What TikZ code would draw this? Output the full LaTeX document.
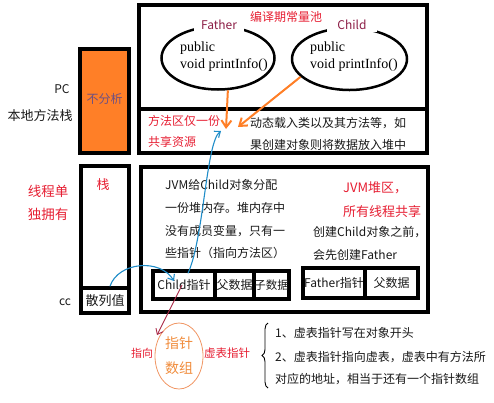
\documentclass[tikz,border=0pt]{standalone}
\usepackage{fontspec}
\setmainfont{Noto Sans CJK SC}
\newfontfamily\serifcode{Liberation Serif}
\usetikzlibrary{shapes.geometric,arrows.meta,decorations.pathreplacing}
\definecolor{myred}{RGB}{230,30,50}
\definecolor{maroon}{RGB}{140,30,70}
\definecolor{myorange}{RGB}{255,127,39}
\definecolor{myblue}{RGB}{30,140,200}
\definecolor{darkred}{RGB}{170,40,70}
\definecolor{circor}{RGB}{240,150,100}
\definecolor{txtor}{RGB}{240,140,60}
\definecolor{purp}{RGB}{110,80,130}
\definecolor{ink}{RGB}{25,25,25}
\begin{document}
\begin{tikzpicture}[x=1pt,y=-1pt,
  box/.style={draw=black,line width=3.5pt,rectangle,inner sep=0pt},
  ell/.style={draw=black,line width=2.5pt,ellipse,inner sep=0pt},
  txt/.style={inner sep=0pt,text=ink,font=\fontsize{12}{14}\selectfont},
  redtxt/.style={txt,text=myred},
  lbl/.style={inner sep=0pt,text=maroon,font=\fontsize{12}{14}\selectfont,fill=white,minimum height=14pt},
  code/.style={inner sep=0pt,text=black,align=left,font=\serifcode\fontsize{14}{17}\selectfont},
  orarr/.style={draw=myorange,line width=2pt,-{Straight Barb[length=7pt,width=10pt]}},
  bluearr/.style={draw=myblue,line width=1.1pt,-{Straight Barb[length=5pt,width=8pt]}},
  redarr/.style={draw=darkred,line width=0.9pt,-{Straight Barb[length=5pt,width=8pt]}}
]
\useasboundingbox (0,0) rectangle (494,402);

% ---- top area: constant pool / method area
\node[box,minimum width=288pt,minimum height=104pt] (constpool) at (283,57) {};
\node[box,minimum width=288pt,minimum height=44pt] (methodlow) at (283,131) {};
\node[redtxt] (cptitle) at (286,17) {编译期常量池};

\node[ell,minimum width=113pt,minimum height=63pt] (fell) at (218,58) {};
\node[ell,minimum width=115pt,minimum height=62pt] (cell) at (349.5,59) {};
\node[lbl,minimum width=50pt] (flabel) at (219,25) {Father};
\node[lbl,minimum width=50pt] (clabel) at (352,25) {Child};
\node[code,anchor=west] (fcode) at (180,57) {public\\void printInfo()};
\node[code,anchor=west] (ccode) at (310,57) {public\\void printInfo()};

\node[redtxt,anchor=west] (ma1) at (148,121) {方法区仅一份};
\node[redtxt,anchor=west] (ma2) at (148,142) {共享资源};
\node[txt,anchor=west] (md1) at (250,123) {动态载入类以及其方法等，如};
\node[txt,anchor=west] (md2) at (250,145) {果创建对象则将数据放入堆中};

\coordinate (tipA1) at (226,129);
\coordinate (tipA2) at (238,127);
\coordinate (tipB) at (221,131);

% ---- left column
\node[box,fill=myorange,minimum width=49pt,minimum height=104pt] (native) at (104.5,101) {};
\node[txt,text=purp] (nofx) at (104.5,99) {不分析};
\node[txt] (pc) at (62,89) {PC};
\node[txt,font=\fontsize{13}{15}\selectfont] (nms) at (40,116) {本地方法栈};

\node[box,minimum width=48pt,minimum height=122pt] (stack) at (105,227) {};
\node[box,minimum width=48pt,minimum height=25pt,font=\fontsize{13}{15}\selectfont,text=ink] (hash) at (105,300.5) {散列值};
\node[redtxt,font=\fontsize{13}{15}\selectfont] (stk) at (103,185) {栈};
\node[txt] (cc) at (65,302) {cc};
\node[redtxt,font=\fontsize{13.5}{15}\selectfont] (th1) at (48,191) {线程单};
\node[redtxt,font=\fontsize{13.5}{15}\selectfont] (th2) at (48,214) {独拥有};

% ---- heap
\node[box,minimum width=287pt,minimum height=145pt] (heap) at (284.5,239.5) {};
\node[txt,anchor=west] (h1) at (165,185) {JVM给Child对象分配};
\node[txt,anchor=west] (h2) at (165,208) {一份堆内存。堆内存中};
\node[txt,anchor=west] (h3) at (165,231) {没有成员变量，只有一};
\node[txt,anchor=west] (h4) at (165,253) {些指针（指向方法区）};
\node[redtxt,anchor=west,font=\fontsize{13}{15}\selectfont] (hr1) at (343,188) {JVM堆区，};
\node[redtxt,anchor=west,font=\fontsize{13}{15}\selectfont] (hr2) at (343,212) {所有线程共享};
\node[txt,anchor=west] (hr3) at (313,232) {创建Child对象之前，};
\node[txt,anchor=west] (hr4) at (313,255) {会先创建Father};

\node[box,minimum width=62pt,minimum height=28pt,txt] (childptr) at (184,285) {Child指针};
\node[box,minimum width=39pt,minimum height=28pt,txt] (fdata) at (234.5,285) {父数据};
\node[box,minimum width=35pt,minimum height=28pt,txt,font=\fontsize{11.5}{13}\selectfont] (cdata) at (271.5,285) {子数据};
\node[box,minimum width=62pt,minimum height=30pt,txt] (fptr) at (334,283) {Father指针};
\node[box,minimum width=53pt,minimum height=30pt,txt] (fpdata) at (391.5,283) {父数据};

\coordinate (tipC) at (174,281);
\coordinate (tipD) at (157,335);

% ---- bottom
\node[draw=circor,ellipse,line width=0.8pt,minimum width=48pt,minimum height=66pt,inner sep=0pt,
      align=center,text=txtor,font=\fontsize{14}{25}\selectfont] (arr) at (179,356) {指针\\数组};
\node[redtxt,font=\fontsize{11}{13}\selectfont] (zx) at (142,353) {指向};
\node[redtxt,font=\fontsize{11.5}{13}\selectfont] (xb) at (227,353) {虚表指针};
\coordinate (brb) at (268,388);
\coordinate (brt) at (268,323);
\draw[line width=0.9pt,decorate,decoration={brace,amplitude=6pt}] (brb) -- (brt);
\node[txt,anchor=west] (n1) at (275,333) {1、虚表指针写在对象开头};
\node[txt,anchor=west] (n2) at (275,357) {2、虚表指针指向虚表，虚表中有方法所};
\node[txt,anchor=west] (n3) at (275,379) {对应的地址，相当于还有一个指针数组};

% ---- connectors
\draw[orarr] (fell.-73) -- (tipA1);
\draw[orarr] (cell.-160) -- (tipA2);
\draw[bluearr] ([xshift=4pt,yshift=-4pt]childptr.north) .. controls (204,238) and (206,142) .. (tipB);
\draw[bluearr] ([xshift=5pt]hash.north) .. controls (118,262) and (160,258) .. (tipC);
\draw[redarr] ([xshift=-2pt]childptr.center) -- (tipD);
\end{tikzpicture}
\end{document}
